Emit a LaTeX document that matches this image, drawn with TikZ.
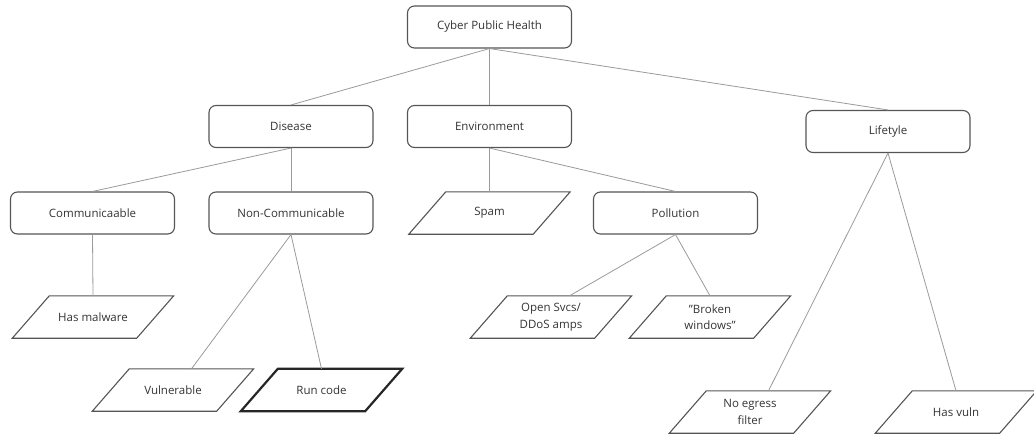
\documentclass[tikz,border=0pt]{standalone}
\usepackage{fontspec}
\setmainfont{Open Sans}
\usepackage{tikz}
\definecolor{cText}{HTML}{333333}
\definecolor{cBorder}{HTML}{555555}
\definecolor{cLink}{HTML}{9A9A9A}

\begin{document}
\begin{tikzpicture}[x=1pt, y=-1pt,
    every node/.style={font=\fontsize{11.5}{16.5}\selectfont, text=cText, align=center},
    box/.style={draw=cBorder, line width=1.1pt, rounded corners=7pt, minimum width=164pt, minimum height=42pt},
    para/.style={minimum width=124pt, minimum height=42pt, inner sep=0pt,
      append after command={\pgfextra{\draw[#1]
        ([xshift=-18.5pt]\tikzlastnode.south west) -- ([xshift=18.5pt]\tikzlastnode.north west)
        -- ([xshift=18.5pt]\tikzlastnode.north east) -- ([xshift=-18.5pt]\tikzlastnode.south east) -- cycle;}}},
    para/.default={cBorder, line width=1.1pt},
    link/.style={draw=cLink, line width=0.8pt}]
  \useasboundingbox (0,0) rectangle (1034,434);

  \node[box] (cph) at (489.5,27) {Cyber Public Health};
  \node[box] (disease) at (291,126.5) {Disease};
  \node[box] (env) at (489.5,126.5) {Environment};
  \node[box] (life) at (888,131.5) {Lifetyle};

  \node[box] (comm) at (92.5,213) {Communicaable};
  \node[box] (noncomm) at (291,213) {Non-Communicable};
  \node[para] (spam) at (489.5,213) {Spam};
  \node[box] (poll) at (675.5,213) {Pollution};

  \node[para] (malware) at (93,317) {Has malware};
  \node[para] (opensvcs) at (551,317) {Open Svcs/\\DDoS amps};
  \node[para] (broken) at (710,317) {"Broken\\windows"};

  \node[para] (vuln) at (173,390) {Vulnerable};
  \node[para={black!85, line width=2.2pt}] (runcode) at (321.5,390) {Run code};
  \node[para] (noegress) at (750,412) {No egress\\filter};
  \node[para] (hasvuln) at (956,412) {Has vuln};

  \foreach \a/\b/\s in {cph/disease/0, cph/env/0, cph/life/0,
      disease/comm/0, disease/noncomm/0, env/spam/0, env/poll/0,
      comm/malware/0, noncomm/vuln/18.5, noncomm/runcode/0,
      poll/opensvcs/18.5, poll/broken/0,
      life/noegress/18.5, life/hasvuln/0}
    \draw[link] (\a.south) -- ([xshift=\s pt]\b.north);
\end{tikzpicture}
\end{document}
